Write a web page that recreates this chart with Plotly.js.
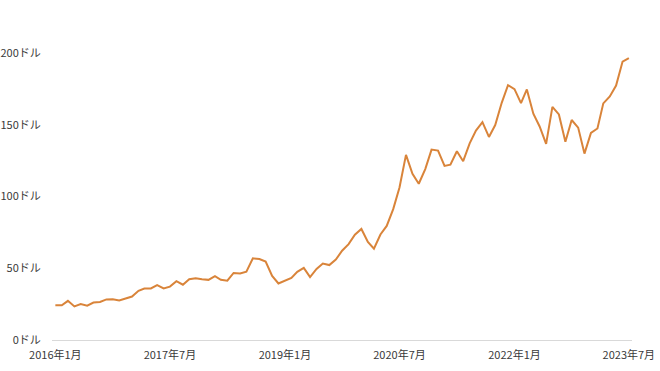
<!DOCTYPE html>
<html>
<head>
<meta charset="utf-8">
<script src="https://cdn.plot.ly/plotly-3.0.1.min.js"></script>
<style>html,body{margin:0;padding:0;background:#fff;}#chart{width:660px;height:371px;}</style>
</head>
<body>
<div id="chart"></div>
<script>
// Monthly values, Jan 2016 – Jul 2023 (dollars)
const startYear = 2016;
const values2016 = [24.3, 24.2, 27.3, 23.4, 25.0, 23.9, 26.1, 26.5, 28.3, 28.4, 27.6, 29.0];
const values2017 = [30.3, 34.3, 35.9, 35.9, 38.2, 36.0, 37.2, 41.0, 38.5, 42.3, 43.0, 42.3];
const values2018 = [41.9, 44.5, 42.0, 41.3, 46.7, 46.3, 47.6, 56.9, 56.4, 54.7, 44.7, 39.4];
const values2019 = [41.6, 43.3, 47.5, 50.2, 43.8, 49.5, 53.3, 52.2, 56.0, 62.2, 66.8, 73.4];
const values2020 = [77.4, 68.3, 63.6, 73.5, 79.5, 91.2, 106.3, 129.0, 115.8, 108.9, 119.1, 132.7];
const values2021 = [132.0, 121.3, 122.2, 131.5, 124.6, 137.0, 145.9, 151.8, 141.5, 149.8, 165.3, 177.6];
const values2022 = [174.8, 165.1, 174.6, 157.7, 148.8, 136.7, 162.5, 157.2, 138.2, 153.3, 148.0, 129.9];
const values2023 = [144.3, 147.4, 164.9, 169.7, 177.3, 194.0, 196.5];

const tickDates = ['2016-01-01', '2017-07-01', '2019-01-01', '2020-07-01', '2022-01-01', '2023-07-01'];
const tickLabels = ['2016年1月', '2017年7月', '2019年1月', '2020年7月', '2022年1月', '2023年7月'];
const yTicks = [0, 50, 100, 150, 200];
const yLabels = ['0ドル', '50ドル', '100ドル', '150ドル', '200ドル'];

const values = [].concat(values2016, values2017, values2018, values2019, values2020, values2021, values2022, values2023);
const dates = values.map((v, i) => {
  const y = startYear + Math.floor(i / 12);
  const m = (i % 12) + 1;
  return y + '-' + String(m).padStart(2, '0') + '-01';
});

const font = {family: '"Noto Sans CJK JP", "Noto Sans", sans-serif', size: 11, color: '#3a3a3a'};

Plotly.newPlot('chart', [{
  x: dates,
  y: values,
  type: 'scatter',
  mode: 'lines',
  line: {color: '#D9843A', width: 2},
  hoverinfo: 'skip'
}], {
  width: 660,
  height: 371,
  margin: {l: 52, r: 28, t: 53, b: 31},
  paper_bgcolor: '#fff',
  plot_bgcolor: '#fff',
  showlegend: false,
  font: font,
  xaxis: {
    type: 'date',
    range: ['2015-12-16', '2023-07-16'],
    tickmode: 'array',
    tickvals: tickDates,
    ticktext: tickLabels,
    showgrid: false,
    zeroline: false,
    showline: false,
    ticks: 'outside',
    ticklen: 5,
    tickcolor: 'rgba(0,0,0,0)',
    tickfont: font
  },
  yaxis: {
    range: [0, 200],
    tickmode: 'array',
    tickvals: yTicks,
    ticktext: yLabels,
    showgrid: false,
    zeroline: true,
    zerolinecolor: '#d9d9d9',
    zerolinewidth: 1,
    showline: false,
    ticks: 'outside',
    ticklen: 8,
    tickcolor: 'rgba(0,0,0,0)',
    tickfont: font
  }
}, {staticPlot: true, displayModeBar: false});
</script>
</body>
</html>
